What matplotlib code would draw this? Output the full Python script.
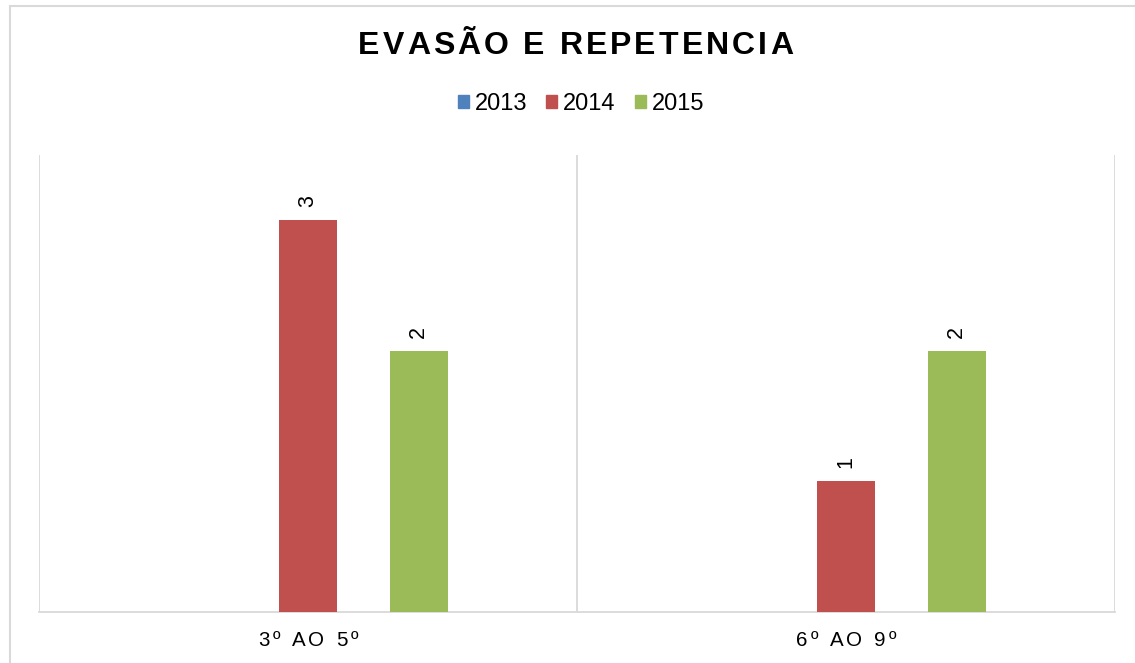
import matplotlib
matplotlib.use("Agg")
import matplotlib.pyplot as plt
import matplotlib.transforms as mtransforms
from matplotlib.patches import Rectangle, Patch
import numpy as np

plt.rcParams['font.family'] = ['Liberation Sans', 'DejaVu Sans']

# data
categories = ["3º AO 5º", "6º AO 9º"]
years = ["2013", "2014", "2015"]
v2013 = [0, 0]
v2014 = [3, 1]
v2015 = [2, 2]
colors = ["#4F81BD", "#C0504D", "#9BBB59"]
title = "EVASÃO E REPETENCIA"

W, H = 1135, 663
fig = plt.figure(figsize=(W / 100, H / 100), dpi=100)
ax = fig.add_axes([39 / W, 51 / H, 1076 / W, 457 / H])
renderer = fig.canvas.get_renderer()


def text_width(s, size, weight):
    t = fig.text(0, 0, s, fontsize=size, fontweight=weight)
    w = t.get_window_extent(renderer).width
    t.remove()
    return w


def spaced_text(x, y, s, transform, tracking, size, weight="normal", dy=0):
    # letter-spaced text, centred on (x, y); tracking in pixels
    base = text_width("||", size, weight)
    adv = [text_width("|" + c + "|", size, weight) - base for c in s]
    total = sum(adv) + tracking * (len(s) - 1)
    pos = -total / 2
    for c, a in zip(s, adv):
        tr = mtransforms.offset_copy(transform, fig=fig, x=pos + a / 2, y=dy, units="dots")
        fig.text(x, y, c, transform=tr, ha="center", va="center",
                 fontsize=size, fontweight=weight, color="black")
        pos += a + tracking


# outer chart frame
fig.add_artist(Rectangle((10 / W, -0.05), 1.2, 1 - 6 / H + 0.05, transform=fig.transFigure,
                         fill=False, edgecolor="#d9d9d9", lw=1.5))

x = np.arange(len(categories)) + 0.5
step, bw = 0.206, 0.108
series = [v2013, v2014, v2015]
for i, (vals, col) in enumerate(zip(series, colors)):
    xs = x + (i - 1) * step
    ax.bar(xs, vals, width=bw, color=col, zorder=3)
    for xi, v in zip(xs, vals):
        if v:
            ax.annotate(str(v), (xi, v), xytext=(0, 9.5), textcoords="offset points",
                        rotation=90, ha="center", va="bottom", fontsize=15.5)

ax.set_xlim(0, 2)
ax.set_ylim(0, 3.5)
ax.set_xticks([0, 1, 2])
ax.set_xticklabels([])
ax.tick_params(axis="x", length=0)
ax.set_yticks([])
ax.xaxis.grid(True, color="#d9d9d9", lw=1.3)
for s in ["top", "left", "right"]:
    ax.spines[s].set_visible(False)
ax.spines["bottom"].set_color("#d9d9d9")
ax.spines["bottom"].set_linewidth(1.3)

# category labels
for xi, lab in zip(x, categories):
    spaced_text(xi, 0, lab, ax.get_xaxis_transform(), 3.0, 14.8, dy=-29)

# title
spaced_text(575.5 / W, 1 - 46 / H, title, fig.transFigure, 3.0, 23, weight="bold")

handles = [Patch(color=c) for c in colors]
fig.legend(handles, years, loc="center", bbox_to_anchor=(581 / W, 1 - 104 / H), ncol=3,
           frameon=False, fontsize=17, handlelength=0.47, handleheight=0.47,
           handletextpad=0.25, columnspacing=0.8)

fig.savefig("out.png", dpi=100)
